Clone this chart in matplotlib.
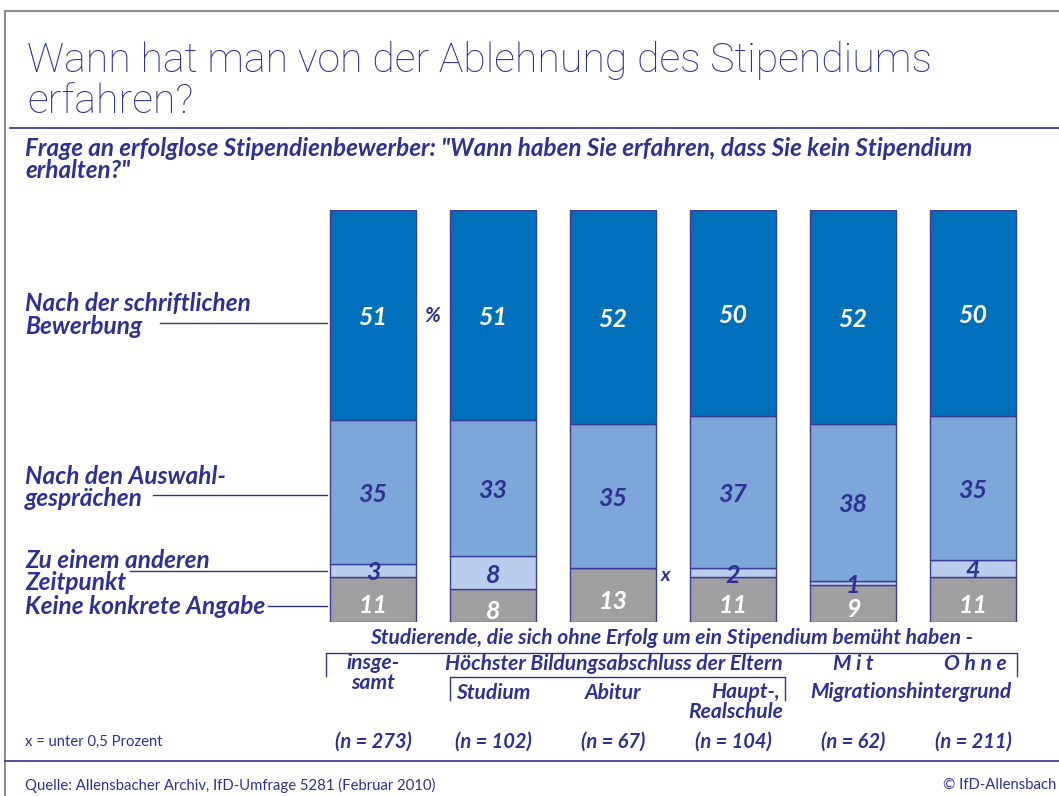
import matplotlib
matplotlib.use("Agg")
import matplotlib.pyplot as plt
import numpy as np

# ---------------- data ----------------
groups = ["insgesamt", "Studium", "Abitur", "Haupt-, Realschule", "Mit", "Ohne"]
schriftlich = [51, 51, 52, 50, 52, 50]   # Nach der schriftlichen Bewerbung
auswahl = [35, 33, 35, 37, 38, 35]       # Nach den Auswahlgesprächen
anderer = [3, 8, 0, 2, 1, 4]             # Zu einem anderen Zeitpunkt (0 = x, unter 0,5)
keine = [11, 8, 13, 11, 9, 11]           # Keine konkrete Angabe
n_labels = ["(n = 273)", "(n = 102)", "(n = 67)", "(n = 104)", "(n = 62)", "(n = 211)"]
series_labels = ["Nach der schriftlichen\nBewerbung", "Nach den Auswahl-\ngesprächen",
                 "Zu einem anderen\nZeitpunkt", "Keine konkrete Angabe"]

NAVY = "#2E3192"
DARK = "#0070BB"
MID = "#7DA7D9"
LIGHT = "#B9CDEC"
GRAY = "#A0A0A2"
EDGE = "#3A3A9A"

FAM = ["Lato", "DejaVu Sans"]
BI = dict(family=FAM, style="italic", weight="bold", color=NAVY)
REG = dict(family=FAM, color=NAVY)

W, H = 1059, 796
fig = plt.figure(figsize=(W / 100, H / 100), dpi=100)
fig.patch.set_facecolor("white")
renderer = fig.canvas.get_renderer()


def fit_size(text, target_w, **props):
    t = fig.text(0, 0, text, fontsize=20, **props)
    w = t.get_window_extent(renderer).width
    t.remove()
    return 20 * target_w / w


# bar axes (pixel geometry: centers 373 + 120 i, top 210, bottom 622)
bax = fig.add_axes([313 / W, (H - 622) / H, 720 / W, 412 / H])
bax.set_xlim(-0.5, 5.5)
bax.set_ylim(0, 100)
bax.axis("off")

x = np.arange(len(groups))
bw = 86 / 120
keine_a = np.array(keine)
anderer_a = np.array(anderer)
auswahl_a = np.array(auswahl)
schr_a = np.array(schriftlich)

b0 = np.zeros(len(groups))
b1 = b0 + keine_a
b2 = b1 + anderer_a
b3 = b2 + auswahl_a

kw = dict(width=bw, edgecolor=EDGE, linewidth=1.0)
bax.bar(x, keine_a, bottom=b0, color=GRAY, **kw)
bax.bar(x, anderer_a, bottom=b1, color=LIGHT, **kw)
bax.bar(x, auswahl_a, bottom=b2, color=MID, **kw)
bax.bar(x, schr_a, bottom=b3, color=DARK, **kw)

numfs = 18
for i in range(len(groups)):
    bax.text(x[i], b3[i] + schr_a[i] / 2 - 0.6, str(schr_a[i]), ha="center", va="center",
             fontsize=numfs, **{**BI, "color": "white"})
    bax.text(x[i], b2[i] + auswahl_a[i] / 2 - 0.6, str(auswahl_a[i]), ha="center", va="center",
             fontsize=numfs, **BI)
    if anderer_a[i] > 0:
        bax.text(x[i], b1[i] + anderer_a[i] / 2 - 0.6, str(anderer_a[i]), ha="center", va="center",
                 fontsize=numfs, **BI)
    else:
        bax.text(x[i] + 0.44, b1[i] - 1.6, "x", ha="center", va="center", fontsize=14, **BI)
    bax.text(x[i], keine_a[i] / 2 - 1.5, str(keine_a[i]), ha="center", va="center",
             fontsize=numfs, **{**BI, "color": "white"})

# overlay axes in pixel coordinates
ov = fig.add_axes([0, 0, 1, 1], zorder=5)
ov.set_xlim(0, W)
ov.set_ylim(H, 0)
ov.axis("off")
ov.patch.set_alpha(0)

# frame
ov.plot([5, W], [11, 11], color="#8C8C8C", lw=1.5)
ov.plot([5, 5], [11, H], color="#8C8C8C", lw=1.5)

# title
TP = dict(family=["Roboto", "Lato", "DejaVu Sans"], weight="light", color=NAVY)
tfs = fit_size("Wann hat man von der Ablehnung des Stipendiums", 905, **TP)
ov.text(27, 61, "Wann hat man von der Ablehnung des Stipendiums", fontsize=tfs,
        va="center", ha="left", **TP)
ov.text(27, 102, "erfahren?", fontsize=tfs, va="center", ha="left", **TP)
ov.plot([10, W], [128, 128], color=NAVY, lw=1.2)

# subtitle
sub1 = 'Frage an erfolglose Stipendienbewerber: "Wann haben Sie erfahren, dass Sie kein Stipendium'
sfs = fit_size(sub1, 948, **BI)
ov.text(25, 149, sub1, fontsize=sfs, va="center", ha="left", **BI)
ov.text(25, 171, 'erhalten?"', fontsize=sfs, va="center", ha="left", **BI)

# series labels with leader lines
lfs = fit_size("Nach der schriftlichen", 225, **BI)
lab_y = [(304, 327), (477, 499), (561, 583), (607,)]
lines = [(160, 323), (153, 495), (130, 571), (268, 606)]
for lab, ys, (x0, ly) in zip(series_labels, lab_y, lines):
    for t, yy in zip(lab.split("\n"), ys):
        ov.text(25, yy, t, fontsize=lfs, va="center", ha="left", **BI)
    ov.plot([x0, 327], [ly, ly], color=NAVY, lw=1.0)

ov.text(432, 316, "%", fontsize=15, va="center", ha="center", **BI)

# bottom header
bfs = fit_size("Studierende, die sich ohne Erfolg um ein Stipendium bemüht haben -", 602, **BI)
ov.text(671, 638, "Studierende, die sich ohne Erfolg um ein Stipendium bemüht haben -",
        fontsize=bfs, va="center", ha="center", **BI)
ov.plot([326, 326, 1017, 1017], [676, 653, 653, 676], color=NAVY, lw=1.0)
ov.plot([450, 450, 785, 785], [700, 677, 677, 700], color=NAVY, lw=1.0)
ov.text(373, 663, "insge-", fontsize=bfs, va="center", ha="center", **BI)
ov.text(373, 683, "samt", fontsize=bfs, va="center", ha="center", **BI)
ov.text(614, 664, "Höchster Bildungsabschluss der Eltern", fontsize=bfs, va="center", ha="center", **BI)
ov.text(853, 664, "M i t", fontsize=bfs, va="center", ha="center", **BI)
ov.text(975, 664, "O h n e", fontsize=bfs, va="center", ha="center", **BI)
ov.text(493, 693, "Studium", fontsize=bfs, va="center", ha="center", **BI)
ov.text(613, 693, "Abitur", fontsize=bfs, va="center", ha="center", **BI)
ov.text(780, 692, "Haupt-,", fontsize=bfs, va="center", ha="right", **BI)
ov.text(783, 712, "Realschule", fontsize=bfs, va="center", ha="right", **BI)
ov.text(911, 692, "Migrationshintergrund", fontsize=bfs, va="center", ha="center", **BI)

# n labels
nfs = fit_size("(n = 273)", 77, **BI)
for i, nl in enumerate(n_labels):
    ov.text(373 + 120 * i, 742, nl, fontsize=nfs, va="center", ha="center", **BI)

ffs = fit_size("Quelle: Allensbacher Archiv, IfD-Umfrage 5281 (Februar 2010)", 412, **REG)
ov.text(25, 742, "x = unter 0,5 Prozent", fontsize=ffs, va="center", ha="left", **REG)
ov.plot([5, W], [761, 761], color=NAVY, lw=1.2)
ov.text(25, 785, "Quelle: Allensbacher Archiv, IfD-Umfrage 5281 (Februar 2010)", fontsize=ffs,
        va="center", ha="left", **REG)
ov.text(943, 785, "© IfD-Allensbach", fontsize=ffs, va="center", ha="left", **REG)

fig.savefig("out.png", dpi=100)
